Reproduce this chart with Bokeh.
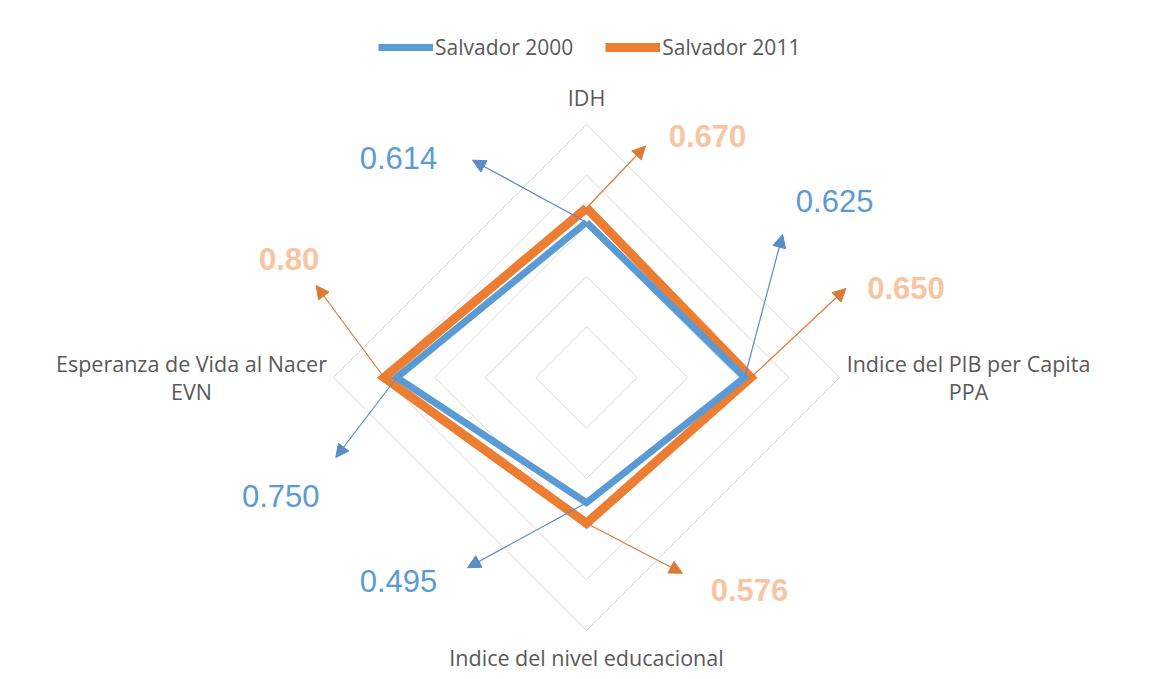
import math
from bokeh.plotting import figure
from bokeh.models import Range1d, Arrow, NormalHead, Legend, LegendItem
from bokeh.core.properties import value
from bokeh.embed import file_html
from bokeh.resources import INLINE

# ---------------- data ----------------
categories = ["IDH", "Indice del PIB per Capita\nPPA", "Indice del nivel educacional",
              "Esperanza de Vida al Nacer\nEVN"]
series_names = ["Salvador 2000", "Salvador 2011"]
values_2000 = [0.614, 0.625, 0.495, 0.750]
values_2011 = [0.670, 0.650, 0.576, 0.80]
labels_2000 = ["0.614", "0.625", "0.495", "0.750"]
labels_2011 = ["0.670", "0.650", "0.576", "0.80"]
ring_levels = [0.2, 0.4, 0.6, 0.8, 1.0]

# ---------------- layout / style ----------------
W, H = 1140, 671
PX = 253.0            # pixels per data unit
CX, CY = 586, 377     # centre of radar on canvas (px from top-left)

BLUE = "#5B9BD5"
ORANGE = "#ED7D31"
BLUE_ARROW = "#5B8CC8"
ORANGE_ARROW = "#DF7A36"
BLUE_LABEL = "#5B9BD5"
ORANGE_LABEL = "#F7C5A2"
GRID = "#D9D9D9"
CAT_COLOR = "#595959"

# annotation offsets (px, from each series vertex): arrow tip, label centre
arrow_2000 = [(-114, 62), (38, 143), (-119, -65), (-61, -80)]
label_2000 = [(-188, 64), (90, 177), (-188, -78), (-116, -118)]
arrow_2011 = [(59, 62), (95, 89), (96, -50), (-68, 92)]
label_2011 = [(121, 72), (155, 90), (163, -67), (-95, 119)]

angles = [math.pi / 2 - i * math.pi / 2 for i in range(len(categories))]

p = figure(width=W, height=H, output_backend="svg", toolbar_location=None,
           x_range=Range1d(-CX / PX, (W - CX) / PX),
           y_range=Range1d(-(H - CY) / PX, CY / PX),
           min_border=0)
p.axis.visible = False
p.grid.visible = False
p.outline_line_color = None
p.background_fill_color = "white"

# grid rings
for lv in ring_levels:
    xs = [lv * math.cos(a) for a in angles] + [lv * math.cos(angles[0])]
    ys = [lv * math.sin(a) for a in angles] + [lv * math.sin(angles[0])]
    p.line(xs, ys, line_color=GRID, line_width=1)


def poly(vals):
    xs = [v * math.cos(a) for v, a in zip(vals, angles)]
    ys = [v * math.sin(a) for v, a in zip(vals, angles)]
    return xs + [xs[0]], ys + [ys[0]]


x11, y11 = poly(values_2011)
x00, y00 = poly(values_2000)
r11 = p.line(x11, y11, line_color=ORANGE, line_width=9, line_join="miter")
r00 = p.line(x00, y00, line_color=BLUE, line_width=7, line_join="miter")


# arrows and value labels
def annotate(vals, arrows, labs, texts, acol, tcol, bold):
    lx, ly = [], []
    for v, a, (adx, ady), (ldx, ldy) in zip(vals, angles, arrows, labs):
        vx, vy = v * math.cos(a), v * math.sin(a)
        p.add_layout(Arrow(end=NormalHead(size=13, fill_color=acol, line_color=acol),
                           x_start=vx, y_start=vy,
                           x_end=vx + adx / PX, y_end=vy + ady / PX,
                           line_color=acol, line_width=1.2))
        lx.append(vx + ldx / PX)
        ly.append(vy + ldy / PX)
    p.text(x=lx, y=ly, text=texts, text_font=value("Liberation Sans"),
           text_font_size="31px", text_color=tcol,
           text_font_style="bold" if bold else "normal",
           text_align="center", text_baseline="middle")


annotate(values_2000, arrow_2000, label_2000, labels_2000, BLUE_ARROW, BLUE_LABEL, False)
annotate(values_2011, arrow_2011, label_2011, labels_2011, ORANGE_ARROW, ORANGE_LABEL, True)

# category labels
cat_offsets = [(0, 27), (129, 0), (0, -27), (-142, 0)]
cx, cy = [], []
for a, (dx, dy) in zip(angles, cat_offsets):
    cx.append(math.cos(a) + dx / PX)
    cy.append(math.sin(a) + dy / PX)
p.text(x=cx, y=cy, text=categories, text_font=value("Open Sans"), text_font_size="21.5px",
       text_color=CAT_COLOR, text_align="center", text_baseline="middle",
       text_line_height=0.97)

legend = Legend(items=[LegendItem(label=series_names[0], renderers=[r00]),
                       LegendItem(label=series_names[1], renderers=[r11])],
                orientation="horizontal", location=(378, 610),
                glyph_width=55, glyph_height=20, label_height=20,
                label_standoff=2, spacing=32, padding=0, margin=0,
                border_line_alpha=0, background_fill_alpha=0,
                label_text_font="Open Sans", label_text_font_size="21px",
                label_text_color=CAT_COLOR)
p.add_layout(legend, "center")

open("out.html", "w").write(file_html(p, INLINE))
